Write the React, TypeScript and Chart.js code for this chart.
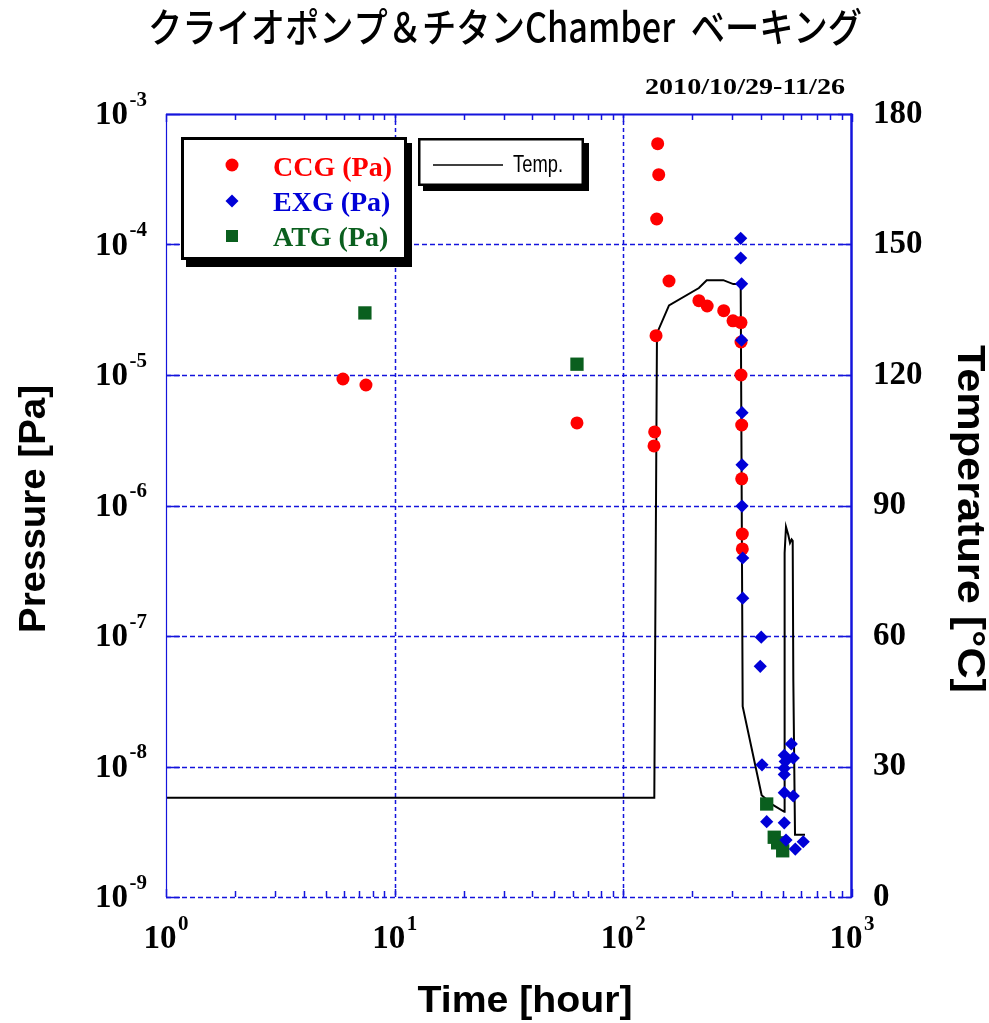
import React, { useEffect, useRef } from 'react';
import { Chart, registerables } from 'chart.js';

Chart.register(...registerables);

// ---------- texts ----------
const chartTitle = 'クライオポンプ＆チタンChamber  ベーキング';
const dateLabel = '2010/10/29-11/26';
const xAxisTitle = 'Time [hour]';
const yAxisTitle = 'Pressure [Pa]';
const y2AxisTitle = 'Temperature [°C]';
const legendLabels = ['CCG (Pa)', 'EXG (Pa)', 'ATG (Pa)'];
const tempLegendLabel = 'Temp.';

// ---------- axes ----------
const timeExponents = [0, 1, 2, 3];
const pressureExponents = [-9, -8, -7, -6, -5, -4, -3];
const temperatureMin = 0;
const temperatureMax = 180;
const temperatureStep = 30;

// ---------- data ----------
const ccgTime = [5.94, 7.49, 62.7, 137.1, 136.2, 139, 141.3, 142.8, 139.9, 158.4, 214, 232.6, 274.8, 301.7, 327, 327, 327, 329.3, 329.3, 331.4, 331.4];
const ccgPressure = [9.32e-6, 8.38e-6, 4.29e-6, 3.66e-6, 2.86e-6, 2.0e-5, 5.92e-4, 3.43e-4, 1.568e-4, 5.25e-5, 3.71e-5, 3.38e-5, 3.11e-5, 2.6e-5, 2.52e-5, 1.79e-5, 1.0e-5, 4.14e-6, 1.6e-6, 6.05e-7, 4.65e-7];

const exgTime = [326, 326, 329, 329, 330.4, 330.4, 330.4, 332.7, 332.7, 401, 397, 404, 542.7, 505.6, 553.6, 510.6, 505.6, 505.6, 505.6, 553.6, 423.6, 505.6, 514.5, 612, 565];
const exgPressure = [1.116e-4, 7.88e-5, 5.0e-5, 1.85e-5, 5.14e-6, 2.05e-6, 9.9e-7, 3.96e-7, 1.95e-7, 9.8e-8, 5.86e-8, 1.03e-8, 1.49e-8, 1.22e-8, 1.16e-8, 1.09e-8, 9.7e-9, 8.7e-9, 6.3e-9, 5.94e-9, 3.78e-9, 3.7e-9, 2.73e-9, 2.65e-9, 2.33e-9];

const atgTime = [7.41, 62.7, 423.6, 457, 473, 497.6];
const atgPressure = [2.99e-5, 1.21e-5, 5.16e-9, 2.87e-9, 2.6e-9, 2.26e-9];

const tempTime = [1, 136.6, 140.3, 142.2, 158.4, 214, 231.5, 273.6, 302.6, 326, 332.6, 402.6, 452.6, 505.8, 507.4, 514.4, 526.6, 535.7, 544.8, 550.4, 553.8, 563.4, 622.9];
const tempValue = [22.8, 22.8, 129, 130.3, 136, 140, 141.8, 141.8, 140.9, 140.9, 43.8, 23.4, 21.1, 19.6, 79.1, 85.1, 83.2, 81.4, 82.2, 81.9, 50, 14.3, 14.3];

// ---------- styles ----------
const RED = 'rgb(255,0,0)';
const BLUE = 'rgb(0,0,215)';
const GREEN = 'rgb(10,95,30)';
const AXIS_BLUE = 'rgb(20,20,220)';
const SERIF = '"Liberation Serif", "Times New Roman", serif';
const SANS = '"Liberation Sans", Arial, sans-serif';
const BASE_FONT = `bold 33px ${SERIF}`;
const SUP_FONT = `bold 21px ${SERIF}`;

const zip = (xs: number[], ys: number[]) => xs.map((x, i) => ({ x, y: ys[i] }));

function powLabel(ctx: CanvasRenderingContext2D, exp: number, x: number, baseline: number, align: 'right' | 'center') {
  const base = '10';
  const sup = exp < 0 ? '-' + Math.abs(exp) : String(exp);
  ctx.font = BASE_FONT;
  const wb = ctx.measureText(base).width;
  ctx.font = SUP_FONT;
  const ws = ctx.measureText(sup).width;
  const gap = 1.5;
  const total = wb + gap + ws;
  const start = align === 'right' ? x - total : x - total / 2;
  ctx.textAlign = 'left';
  ctx.textBaseline = 'alphabetic';
  ctx.fillStyle = '#000';
  ctx.font = BASE_FONT;
  ctx.fillText(base, start, baseline);
  ctx.font = SUP_FONT;
  ctx.fillText(sup, start + wb + gap, baseline - 18.5);
}

function drawFit(ctx: CanvasRenderingContext2D, text: string, cx: number, cy: number, rot: number, font: string, width: number, baseOffset: number, color = '#000') {
  ctx.save();
  ctx.font = font;
  ctx.fillStyle = color;
  ctx.textAlign = 'center';
  ctx.textBaseline = 'alphabetic';
  const w = ctx.measureText(text).width;
  ctx.translate(cx, cy);
  ctx.rotate(rot);
  ctx.scale(width / w, 1);
  ctx.fillText(text, 0, baseOffset);
  ctx.restore();
}

function drawFitLeft(ctx: CanvasRenderingContext2D, text: string, x: number, baseline: number, font: string, width: number, color = '#000') {
  ctx.save();
  ctx.font = font;
  ctx.fillStyle = color;
  ctx.textAlign = 'left';
  ctx.textBaseline = 'alphabetic';
  const w = ctx.measureText(text).width;
  ctx.translate(x, baseline);
  ctx.scale(width / w, 1);
  ctx.fillText(text, 0, 0);
  ctx.restore();
}

function line(ctx: CanvasRenderingContext2D, x1: number, y1: number, x2: number, y2: number) {
  ctx.beginPath();
  ctx.moveTo(x1, y1);
  ctx.lineTo(x2, y2);
  ctx.stroke();
}

const decorPlugin = {
  id: 'decor',
  beforeDatasetsDraw(chart: any) {
    const { ctx, chartArea: a, scales } = chart;
    const xs = scales.x;
    const ys = scales.y;
    ctx.save();
    ctx.strokeStyle = AXIS_BLUE;
    ctx.lineWidth = 1.5;
    ctx.setLineDash([4, 3]);
    for (const e of timeExponents) {
      if (e === timeExponents[0] || e === timeExponents[timeExponents.length - 1]) continue;
      const px = Math.round(xs.getPixelForValue(Math.pow(10, e))) + 0.5;
      line(ctx, px, a.top, px, a.bottom);
    }
    ctx.setLineDash([5, 3]);
    for (const e of pressureExponents) {
      if (e === pressureExponents[pressureExponents.length - 1]) continue;
      const py = Math.round(ys.getPixelForValue(Math.pow(10, e))) + 0.5;
      line(ctx, a.left, py, a.right, py);
    }
    ctx.restore();
  },
  afterDatasetsDraw(chart: any) {
    const { ctx, chartArea: a, scales } = chart;
    const xs = scales.x;
    const ys = scales.y;
    const yt = scales.yT;
    ctx.save();
    ctx.setLineDash([]);
    ctx.strokeStyle = AXIS_BLUE;
    // frame
    ctx.lineWidth = 1.2;
    line(ctx, a.left + 0.5, a.top, a.left + 0.5, a.bottom);
    ctx.lineWidth = 2;
    line(ctx, a.left, a.top + 0.5, a.right, a.top + 0.5);
    ctx.lineWidth = 2.5;
    line(ctx, a.right - 0.5, a.top - 0.5, a.right - 0.5, a.bottom + 0.5);
    // major y ticks (left)
    ctx.lineWidth = 1.5;
    for (const e of pressureExponents) {
      const py = Math.round(ys.getPixelForValue(Math.pow(10, e))) + 0.5;
      line(ctx, a.left, py, a.left + 14, py);
    }
    // major ticks (right, temperature)
    for (let t = temperatureMin; t <= temperatureMax; t += temperatureStep) {
      const py = Math.round(yt.getPixelForValue(t)) + 0.5;
      line(ctx, a.right - 14, py, a.right, py);
    }
    // x ticks
    for (let i = 0; i < timeExponents.length; i++) {
      const e = timeExponents[i];
      const dec = Math.pow(10, e);
      const px = Math.round(xs.getPixelForValue(dec)) + 0.5;
      ctx.lineWidth = 1.5;
      line(ctx, px, a.bottom - 8, px, a.bottom);
      line(ctx, px, a.top, px, a.top + 8);
      if (i === timeExponents.length - 1) continue;
      for (let k = 2; k <= 9; k++) {
        const mx = Math.round(xs.getPixelForValue(k * dec)) + 0.5;
        line(ctx, mx, a.bottom - 6, mx, a.bottom);
        line(ctx, mx, a.top, mx, a.top + 6);
      }
    }
    // tick labels with superscripts
    for (const e of pressureExponents) {
      const py = ys.getPixelForValue(Math.pow(10, e));
      powLabel(ctx, e, a.left - 19, py + 10, 'right');
    }
    for (const e of timeExponents) {
      const px = xs.getPixelForValue(Math.pow(10, e));
      powLabel(ctx, e, px, a.bottom + 51, 'center');
    }

    // legend box 1
    ctx.fillStyle = '#000';
    ctx.fillRect(186, 143, 226, 124);
    ctx.fillStyle = '#fff';
    ctx.fillRect(181, 137, 226, 123);
    ctx.lineWidth = 3;
    ctx.strokeStyle = '#000';
    ctx.strokeRect(182.5, 138.5, 223, 120);
    // markers
    ctx.fillStyle = RED;
    ctx.beginPath();
    ctx.arc(232, 165, 6.5, 0, Math.PI * 2);
    ctx.fill();
    ctx.fillStyle = BLUE;
    ctx.beginPath();
    ctx.moveTo(232, 194.5);
    ctx.lineTo(238.5, 201);
    ctx.lineTo(232, 207.5);
    ctx.lineTo(225.5, 201);
    ctx.closePath();
    ctx.fill();
    ctx.fillStyle = GREEN;
    ctx.fillRect(226, 230, 12, 12);
    const lf = `bold 28px ${SERIF}`;
    ctx.font = lf;
    ctx.textAlign = 'left';
    ctx.textBaseline = 'alphabetic';
    ctx.fillStyle = RED;
    ctx.fillText(legendLabels[0], 273, 176);
    ctx.fillStyle = BLUE;
    ctx.fillText(legendLabels[1], 273, 211);
    ctx.fillStyle = GREEN;
    ctx.fillText(legendLabels[2], 273, 246);

    // legend box 2 (Temp.)
    ctx.fillStyle = '#000';
    ctx.fillRect(423, 143, 166, 48);
    ctx.fillStyle = '#fff';
    ctx.fillRect(418, 138, 166, 48);
    ctx.lineWidth = 2.5;
    ctx.strokeStyle = '#000';
    ctx.strokeRect(419.25, 139.25, 163.5, 45.5);
    ctx.lineWidth = 1.5;
    line(ctx, 433, 165, 503, 165);
    drawFitLeft(ctx, tempLegendLabel, 513, 172, `23px ${SANS}`, 50);

    ctx.restore();
  },
  afterDraw(chart: any) {
    const { ctx } = chart;
    ctx.save();
    // title
    ctx.font = `500 40px "Noto Sans CJK JP", sans-serif`;
    ctx.fillStyle = '#000';
    ctx.textAlign = 'center';
    ctx.textBaseline = 'middle';
    const tw = ctx.measureText(chartTitle).width;
    ctx.translate(505, 27);
    ctx.scale(714 / tw, 1);
    ctx.fillText(chartTitle, 0, 0);
    ctx.restore();
    ctx.save();
    // date
    drawFitLeft(ctx, dateLabel, 845 - 200, 94, `bold 24px ${SERIF}`, 200);
    // axis titles
    drawFit(ctx, yAxisTitle, 35, 509, -Math.PI / 2, `bold 37px ${SANS}`, 248, 0.26 * 37);
    drawFit(ctx, y2AxisTitle, 968, 519, Math.PI / 2, `bold 39px ${SANS}`, 348, 0.26 * 39);
    drawFit(ctx, xAxisTitle, 525, 1002, 0, `bold 37px ${SANS}`, 215, 0.26 * 37);
    ctx.restore();
  },
};

export default function App() {
  const ref = useRef<HTMLCanvasElement>(null);
  useEffect(() => {
    const canvas = ref.current;
    if (!canvas) return;
    const chart = new Chart(canvas, {
      type: 'scatter',
      data: {
        datasets: [
          {
            label: legendLabels[1],
            data: zip(exgTime, exgPressure),
            pointStyle: 'rectRot',
            pointRadius: 6.6,
            backgroundColor: BLUE,
            borderColor: BLUE,
            borderWidth: 0,
            yAxisID: 'y',
          },
          {
            label: legendLabels[2],
            data: zip(atgTime, atgPressure),
            pointStyle: 'rect',
            pointRadius: 9.4,
            backgroundColor: GREEN,
            borderColor: GREEN,
            borderWidth: 0,
            yAxisID: 'y',
          },
          {
            label: legendLabels[0],
            data: zip(ccgTime, ccgPressure),
            pointStyle: 'circle',
            pointRadius: 6.5,
            backgroundColor: RED,
            borderColor: RED,
            borderWidth: 0,
            yAxisID: 'y',
          },
          {
            label: tempLegendLabel,
            data: zip(tempTime, tempValue),
            showLine: true,
            pointRadius: 0,
            borderColor: '#000',
            borderWidth: 2,
            tension: 0,
            fill: false,
            yAxisID: 'yT',
          } as any,
        ],
      },
      options: {
        animation: false,
        responsive: false,
        devicePixelRatio: 1,
        layout: { padding: { top: 114, left: 0, right: 0, bottom: 0 } },
        plugins: {
          legend: { display: false },
          tooltip: { enabled: false },
          title: { display: false },
        },
        scales: {
          x: {
            type: 'logarithmic',
            position: 'bottom',
            min: Math.pow(10, timeExponents[0]),
            max: Math.pow(10, timeExponents[timeExponents.length - 1]),
            ticks: { display: false },
            grid: { display: false, drawTicks: false },
            border: { display: false },
            afterFit: (s: any) => { s.height = 126; },
          },
          y: {
            type: 'logarithmic',
            position: 'left',
            min: Math.pow(10, pressureExponents[0]),
            max: Math.pow(10, pressureExponents[pressureExponents.length - 1]),
            ticks: { display: false },
            grid: { display: false, drawTicks: false },
            border: { display: false },
            afterFit: (s: any) => { s.width = 166; },
          },
          yT: {
            type: 'linear',
            position: 'right',
            min: temperatureMin,
            max: temperatureMax,
            ticks: {
              stepSize: temperatureStep,
              color: '#000',
              font: { family: SERIF, size: 33, weight: 'bold' },
              padding: 21,
            },
            grid: { display: false, drawTicks: false },
            border: { display: false },
            afterFit: (s: any) => { s.width = 137; },
          },
        },
      } as any,
      plugins: [decorPlugin],
    });
    return () => chart.destroy();
  }, []);
  return (
    <div style={{ position: 'fixed', left: 0, top: 0, width: 989, height: 1023, background: '#fff' }}>
      <canvas ref={ref} width={989} height={1023} style={{ display: 'block', width: 989, height: 1023 }} />
    </div>
  );
}
